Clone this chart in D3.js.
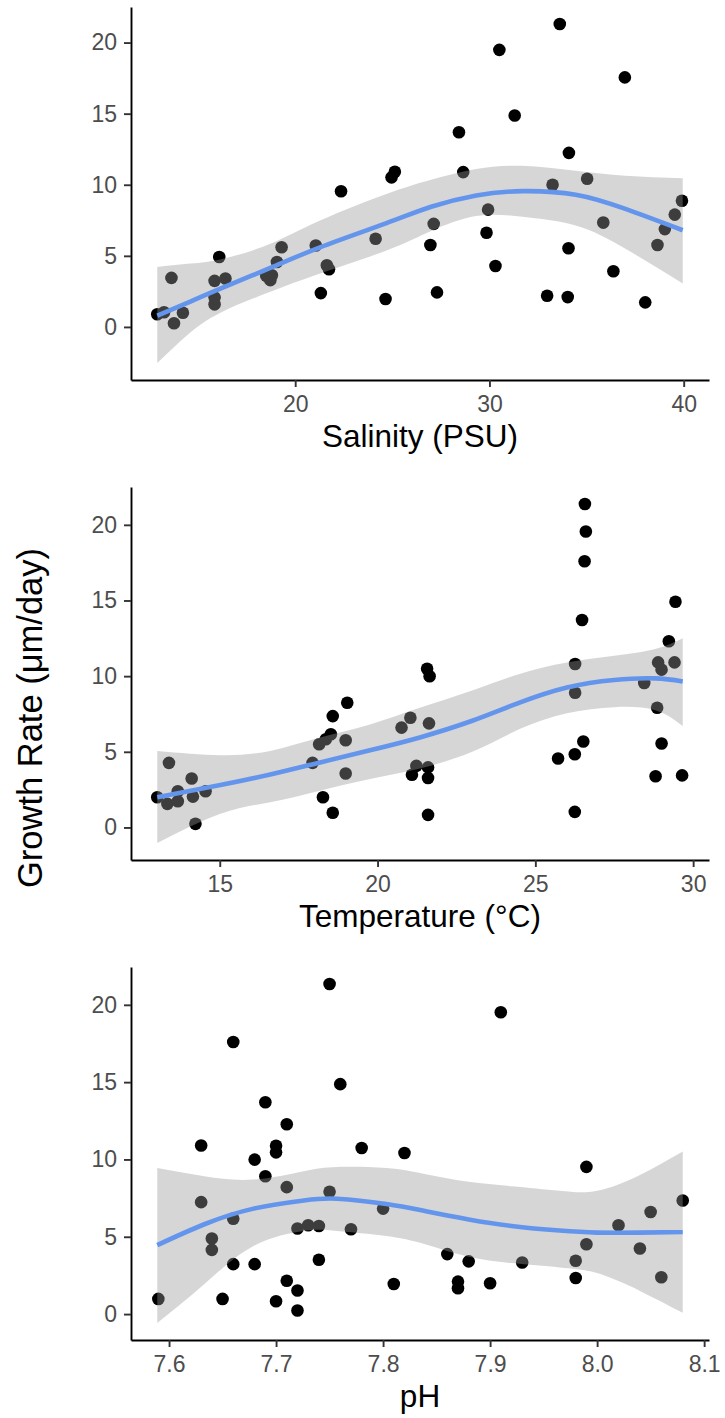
<!DOCTYPE html>
<html>
<head>
<meta charset="utf-8">
<script src="https://cdn.jsdelivr.net/npm/d3@7"></script>
<style>
  body { margin: 0; background: #fff; }
  svg { display: block; }
  text { font-family: "Liberation Sans", Arial, Helvetica, sans-serif; }
</style>
</head>
<body>
<svg id="chart" width="725" height="1418"></svg>
<script>
// ---- Observations: growth rate against salinity ----
const salinity = [12.9, 13.25, 13.63, 13.76, 14.22, 16.09, 15.85, 15.85, 15.85, 16.41,
  18.51, 18.72, 18.8, 19.06, 19.3, 21.06, 21.32, 21.63, 21.74, 22.36,
  24.14, 24.65, 24.96, 25.13, 27.13, 26.96, 27.3, 28.43, 28.65, 30.51,
  29.93, 29.85, 30.31, 31.3, 33.62, 33.25, 34.09, 34.07, 32.97, 34.03,
  35.03, 35.86, 36.38, 36.97, 38.02, 38.65, 39.03, 39.54, 39.91];
const growthSal = [0.89, 1.03, 3.45, 0.26, 1.0, 4.92, 3.24, 2.08, 1.59, 3.41,
  3.59, 3.29, 3.64, 4.57, 5.6, 5.73, 2.38, 4.34, 4.06, 9.54,
  6.2, 1.96, 10.52, 10.91, 7.25, 5.76, 2.43, 13.69, 10.89, 19.49,
  8.25, 6.62, 4.29, 14.87, 21.31, 10.0, 12.24, 5.53, 2.19, 2.1,
  10.42, 7.34, 3.92, 17.55, 1.73, 5.76, 6.88, 7.9, 8.88];

// Loess fit with 95% band, salinity
const salFitX = [12.9, 14.45, 16.15, 18.72, 21.28, 24.7, 27.0, 29.32, 31.7, 34.44, 37.0, 39.95];
const salFit  = [0.8, 1.7, 2.7, 4.15, 5.6, 7.3, 8.45, 9.25, 9.55, 9.3, 8.3, 6.8];
const salLo   = [-2.54, -0.56, 1.0, 2.47, 3.75, 5.38, 6.75, 7.8, 7.75, 7.13, 5.5, 3.06];
const salHi   = [4.22, 4.45, 4.75, 5.85, 7.48, 9.35, 10.35, 11.1, 11.33, 10.98, 10.63, 10.45];

// ---- Observations: growth rate against temperature ----
const temperature = [13.02, 13.39, 13.34, 13.67, 13.67, 14.11, 14.15, 14.23, 14.55, 17.94,
  18.15, 18.36, 18.52, 18.58, 18.27, 18.58, 18.99, 19.04, 18.99, 20.76,
  21.04, 21.09, 21.23, 21.57, 21.65, 21.63, 21.6, 21.6, 21.6, 25.72,
  26.25, 26.52, 26.25, 26.26, 26.26, 26.48, 26.56, 26.6, 26.57, 28.45,
  28.86, 28.89, 29.0, 29.0, 28.81, 29.23, 29.41, 29.44, 29.65];
const growthTemp = [2.0, 4.27, 1.56, 2.39, 1.73, 3.24, 2.04, 0.24, 2.39, 4.27,
  5.5, 5.83, 6.16, 7.36, 2.0, 0.97, 5.76, 8.24, 3.57, 6.6,
  7.25, 3.48, 4.07, 10.49, 9.99, 6.88, 3.97, 3.27, 0.83, 4.56,
  4.84, 5.68, 1.03, 10.8, 8.9, 13.71, 17.59, 19.56, 21.38, 9.55,
  7.91, 10.91, 10.43, 5.55, 3.38, 12.31, 10.91, 14.92, 3.44];

// Loess fit with 95% band, temperature
const tempFitX = [13.02, 15.02, 16.6, 18.18, 19.76, 21.34, 23.0, 24.5, 26.0, 27.5, 28.8, 29.67];
const tempFit  = [2.0, 2.8, 3.5, 4.3, 5.1, 5.95, 7.05, 8.25, 9.25, 9.75, 9.85, 9.65];
const tempLo   = [-1.03, 0.9, 1.67, 2.43, 3.2, 3.9, 5.0, 6.5, 7.55, 7.95, 7.75, 6.7];
const tempHi   = [5.06, 4.78, 5.06, 5.94, 6.81, 7.91, 9.05, 10.15, 10.9, 11.35, 11.8, 12.51];

// ---- Observations: growth rate against pH ----
const pH = [7.59, 7.63, 7.63, 7.64, 7.64, 7.65, 7.66, 7.66, 7.66, 7.68,
  7.68, 7.69, 7.69, 7.70, 7.70, 7.70, 7.71, 7.71, 7.71, 7.72,
  7.72, 7.72, 7.73, 7.74, 7.74, 7.75, 7.75, 7.76, 7.77, 7.78,
  7.80, 7.81, 7.82, 7.86, 7.87, 7.87, 7.88, 7.90, 7.91, 7.93,
  7.98, 7.98, 7.99, 7.99, 8.02, 8.04, 8.05, 8.06, 8.08];
const growthPH = [0.98, 10.9, 7.24, 4.89, 4.15, 0.98, 17.6, 6.17, 3.23, 9.99,
  3.23, 13.7, 8.91, 10.89, 10.46, 0.83, 12.28, 8.21, 2.16, 5.53,
  1.52, 0.23, 5.74, 5.7, 3.51, 21.35, 7.91, 14.87, 5.49, 10.74,
  6.82, 1.95, 10.42, 3.88, 2.1, 1.67, 3.41, 1.99, 19.52, 3.34,
  3.45, 2.33, 9.52, 4.52, 5.74, 4.24, 6.6, 2.38, 7.35];

// Loess fit with 95% band, pH
const phFitX = [7.589, 7.633, 7.679, 7.726, 7.757, 7.803, 7.84, 7.88, 7.92, 7.965, 8.0, 8.04, 8.08];
const phFit  = [4.46, 5.81, 6.82, 7.35, 7.46, 7.12, 6.65, 6.12, 5.7, 5.4, 5.27, 5.27, 5.31];
const phLo   = [-0.58, 1.95, 4.41, 5.38, 5.38, 5.05, 4.5, 3.7, 3.3, 3.02, 2.65, 1.5, 0.08];
const phHi   = [9.45, 8.91, 8.7, 9.24, 9.52, 9.45, 9.05, 8.55, 8.27, 7.97, 7.97, 9.0, 10.52];

// Tick values
const growthTicks = [0, 5, 10, 15, 20];
const salTicks = [20, 30, 40];
const tempTicks = [15, 20, 25, 30];
const phTicks = [7.6, 7.7, 7.8, 7.9, 8.0, 8.1];

const yTitle = "Growth Rate (\u03BCm/day)";

const panels = [
  { x: salinity, y: growthSal, fx: salFitX, fit: salFit, lo: salLo, hi: salHi,
    xTicks: salTicks, fmt: d3.format("d"), title: "Salinity (PSU)", top: 7, bottom: 380 },
  { x: temperature, y: growthTemp, fx: tempFitX, fit: tempFit, lo: tempLo, hi: tempHi,
    xTicks: tempTicks, fmt: d3.format("d"), title: "Temperature (\u00B0C)", top: 487, bottom: 860 },
  { x: pH, y: growthPH, fx: phFitX, fit: phFit, lo: phLo, hi: phHi,
    xTicks: phTicks, fmt: d3.format(".1f"), title: "pH", top: 967, bottom: 1340 }
];

const svg = d3.select("#chart");
const left = 131, right = 709;
const tickColor = "#333333", labelColor = "#4D4D4D";

// continuous scale limits padded by 5% on each side
function padded(lo, hi) {
  const d = (hi - lo) * 0.05;
  return [lo - d, hi + d];
}

panels.forEach(p => {
  const xs = p.x.concat(p.fx);
  const ys = p.y.concat(p.lo, p.hi);
  const x = d3.scaleLinear().domain(padded(d3.min(xs), d3.max(xs))).range([left, right]);
  const y = d3.scaleLinear().domain(padded(d3.min(ys), d3.max(ys))).range([p.bottom, p.top]);

  const g = svg.append("g");

  // points (drawn beneath the confidence band)
  g.append("g").selectAll("circle")
    .data(p.x.map((v, i) => [v, p.y[i]]))
    .join("circle")
    .attr("cx", d => x(d[0]))
    .attr("cy", d => y(d[1]))
    .attr("r", 6.3)
    .attr("fill", "#000");

  const fitData = p.fx.map((v, i) => ({ x: v, fit: p.fit[i], lo: p.lo[i], hi: p.hi[i] }));

  // 95% confidence band
  g.append("path")
    .datum(fitData)
    .attr("d", d3.area()
      .x(d => x(d.x))
      .y0(d => y(d.lo))
      .y1(d => y(d.hi))
      .curve(d3.curveNatural))
    .attr("fill", "#999999")
    .attr("fill-opacity", 0.4);

  // smoothed trend
  g.append("path")
    .datum(fitData)
    .attr("d", d3.line()
      .x(d => x(d.x))
      .y(d => y(d.fit))
      .curve(d3.curveNatural))
    .attr("fill", "none")
    .attr("stroke", "#6495ED")
    .attr("stroke-width", 4.6)
    .attr("stroke-linecap", "butt");

  // y axis
  const ya = g.append("g")
    .attr("transform", `translate(${left},0)`)
    .call(d3.axisLeft(y).tickValues(growthTicks).tickSize(7).tickSizeOuter(0).tickPadding(7));
  // x axis
  const xa = g.append("g")
    .attr("transform", `translate(0,${p.bottom})`)
    .call(d3.axisBottom(x).tickValues(p.xTicks).tickFormat(p.fmt).tickSize(7).tickSizeOuter(0).tickPadding(9));

  [ya, xa].forEach(a => {
    a.select(".domain").attr("stroke", "#000").attr("stroke-width", 1.9);
    a.selectAll(".tick line").attr("stroke", tickColor).attr("stroke-width", 1.9);
    a.selectAll(".tick text")
      .attr("fill", labelColor)
      .style("font-size", "23px")
      .style("font-family", '"Liberation Sans", Arial, Helvetica, sans-serif');
  });

  // x axis title
  g.append("text")
    .attr("x", (left + right) / 2)
    .attr("y", p.bottom + 67)
    .attr("text-anchor", "middle")
    .attr("fill", "#000")
    .style("font-size", "31.5px")
    .text(p.title);
});

// shared y axis title
svg.append("text")
  .attr("transform", "translate(41.5,718) rotate(-90)")
  .attr("text-anchor", "middle")
  .attr("fill", "#000")
  .style("font-size", "34.5px")
  .text(yTitle);
</script>
</body>
</html>
